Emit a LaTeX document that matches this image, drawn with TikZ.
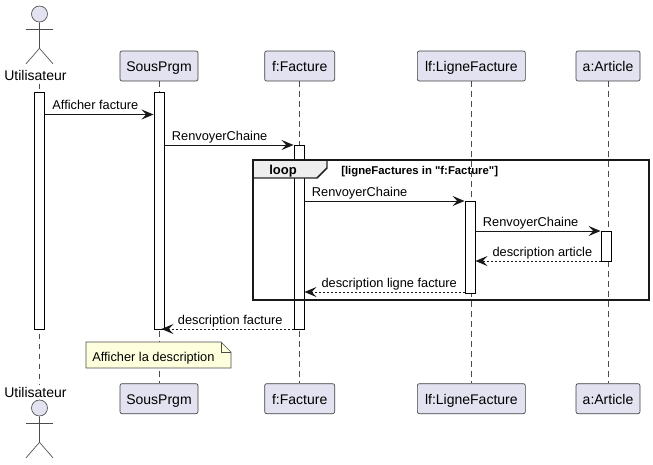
\documentclass[tikz,border=0pt]{standalone}
\usepackage{fontspec}
\setmainfont{Liberation Sans}
\newfontfamily\condfont{Liberation Sans}
\usetikzlibrary{calc,positioning,arrows.meta}

\definecolor{headfill}{HTML}{E2E2F0}
\definecolor{notefill}{HTML}{FEFFDD}
\definecolor{tabfill}{HTML}{EEEEEE}
\tikzset{
	participant/.style={draw=black!75,line width=0.5pt,fill=headfill,rounded corners=1.5pt,minimum height=22.5pt,inner sep=0pt,text height=10.6pt,text depth=2pt,font=\fontsize{10.5}{12}\selectfont},
	actorlabel/.style={inner sep=0pt,font=\fontsize{10.5}{12}\selectfont},
	actorhead/.style={circle,draw=black!70,line width=0.5pt,fill=headfill,minimum size=12pt,inner sep=0pt},
	actorline/.style={draw=black!70,line width=0.5pt},
	lifeline/.style={draw=black!70,line width=0.4pt,dash pattern=on 4pt off 3.5pt},
	bar/.style={draw=black,line width=0.7pt,fill=white,minimum width=7.5pt,inner sep=0pt},
	msg/.style={draw=black!90,line width=0.7pt,-{Stealth[length=9pt,width=7.5pt,inset=3.5pt]}},
	ret/.style={msg,dash pattern=on 1.5pt off 1.5pt},
	msglabel/.style={pos=0,anchor=base west,font=\fontsize{9.6}{11}\selectfont,inner sep=0pt,xshift=5.25pt,yshift=3.4pt},
	retlabel/.style={msglabel,pos=1,xshift=7.25pt}
}

\begin{document}
\begin{tikzpicture}[x=0.75pt,y=-0.75pt]
	\useasboundingbox (0,0) rectangle (653,464);

	%Noms en haut
	\node[participant,minimum width=58.5pt] (sous) at (159,66) {SousPrgm};
	\node[participant,minimum width=52.5pt,right=49.5pt of sous] (facture) {f:Facture};
	\node[participant,minimum width=81pt,right=61.5pt of facture] (ligne) {lf:LigneFacture};
	\node[participant,minimum width=48pt,right=37.5pt of ligne] (article) {a:Article};
	\node[actorlabel] (user) at (35.5,75.5) {Utilisateur};

	%Noms en bas
	\node[participant,minimum width=58.5pt,below=226.5pt of sous] (sous_ground) {SousPrgm};
	\node[participant,minimum width=52.5pt,below=226.5pt of facture] (facture_ground) {f:Facture};
	\node[participant,minimum width=81pt,below=226.5pt of ligne] (ligne_ground) {lf:LigneFacture};
	\node[participant,minimum width=48pt,below=226.5pt of article] (article_ground) {a:Article};
	\node[actorlabel] (user_ground) at (35.5,392) {Utilisateur};

	%Acteurs
	\node[actorhead] (userhead) at (39.5,14) {};
	\draw[actorline] (userhead.south) -- ++(0,26) coordinate (userhip) -- ++(-13.5,15.5);
	\draw[actorline] (userhip) -- ++(13.5,15.5);
	\draw[actorline] ($(userhead.south)+(-13.5,7)$) -- ++(27,0);
	\node[actorhead] (userhead_ground) at (39.5,408) {};
	\draw[actorline] (userhead_ground.south) -- ++(0,26) coordinate (userhip_ground) -- ++(-13.5,15.5);
	\draw[actorline] (userhip_ground) -- ++(13.5,15.5);
	\draw[actorline] ($(userhead_ground.south)+(-13.5,7)$) -- ++(27,0);

	%Trait vertical
	\draw[lifeline] ($(user)+(4,8)$) -- ($(user_ground)+(4,-8)$);
	\draw[lifeline] (sous) -- (sous_ground);
	\draw[lifeline] (facture) -- (facture_ground);
	\draw[lifeline] (ligne) -- (ligne_ground);
	\draw[lifeline] (article) -- (article_ground);

	%Barres
	\node[bar,minimum height=177.75pt] (baruser) at (39.5,210.5) {};
	\node[bar,minimum height=177.75pt] (barsous) at (159,210.5) {};
	\node[bar,minimum height=138pt] (barfacture) at (299,237) {};
	\node[bar,minimum height=69pt] (barligne) at (470,247) {};
	\node[bar,minimum height=22.5pt] (bararticle) at (606,246) {};

	%Boucle
	\draw[fill=tabfill,draw=none] (253,160) -- (327,160) -- (327,168) -- (317,178) -- (253,178) -- cycle;
	\draw[black!85,line width=1.1pt] (327,160) -- (327,168) -- (317,178) -- (253,178);
	\draw[black!90,line width=1.5pt] (253,160) rectangle (649,300);
	\node[inner sep=0pt,anchor=base,font=\bfseries\fontsize{9.75}{11}\selectfont] (loop) at (283,174.5) {loop};
	\node[inner sep=0pt,anchor=base west,font=\condfont\bfseries\fontsize{8.5}{10}\selectfont] (cond) at (341,174) {[ligneFactures in "f:Facture"]};

	%Ligne
	\coordinate (m1) at (0,114.5);
	\coordinate (m2) at (0,145);
	\coordinate (m3) at (0,201);
	\coordinate (m4) at (0,231);
	\coordinate (m5) at (0,261);
	\coordinate (m6) at (0,292);
	\coordinate (m7) at (0,329);
	\draw[msg] (baruser.east |- m1) -- node[msglabel]{Afficher facture} (barsous.west |- m1);
	\draw[msg] (barsous.east |- m2) -- node[msglabel]{RenvoyerChaine} (barfacture.west |- m2);
	\draw[msg] (barfacture.east |- m3) -- node[msglabel]{RenvoyerChaine} (barligne.west |- m3);
	\draw[msg] (barligne.east |- m4) -- node[msglabel]{RenvoyerChaine} (bararticle.west |- m4);
	\draw[ret] (bararticle.west |- m5) -- node[retlabel]{description article} (barligne.east |- m5);
	\draw[ret] (barligne.west |- m6) -- node[retlabel]{description ligne facture} (barfacture.east |- m6);
	\draw[ret,shorten >=-2.25pt] (barfacture.west |- m7) -- node[retlabel,xshift=-2.75pt]{description facture} (barsous.east |- m7);

	%Note
	\draw[black!70,line width=0.5pt,fill=notefill] (86,342) -- (221,342) -- (231,352) -- (231,368) -- (86,368) -- cycle;
	\draw[black!70,line width=0.5pt] (221,342) -- (221,352) -- (231,352);
	\node[inner sep=0pt,font=\fontsize{9.6}{11}\selectfont,anchor=base west] (note) at (92,361) {Afficher la description};
\end{tikzpicture}
\end{document}
